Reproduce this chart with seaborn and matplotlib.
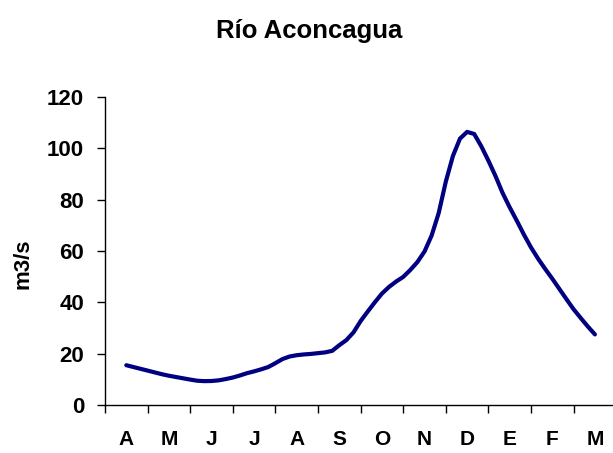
import matplotlib
matplotlib.use("Agg")
import matplotlib.pyplot as plt
import seaborn as sns
import pandas as pd

# Months of the hydrological year (April to March)
months = ["A", "M", "J", "J", "A", "S", "O", "N", "D", "E", "F", "M"]

# Five-day mean discharge (m3/s), one value every sixth of a month from April
pentad = list(range(67))
flow = [15.5, 14.8, 14.1, 13.4, 12.7, 12.0,
        11.4, 10.9, 10.4, 9.9, 9.45, 9.3,
        9.35, 9.6, 10.1, 10.7, 11.5, 12.4,
        13.1, 13.9, 14.8, 16.3, 17.9, 18.9,
        19.4, 19.7, 19.9, 20.2, 20.5, 21.1,
        23.3, 25.3, 28.3, 32.7, 36.4, 40.0,
        43.4, 46.0, 48.1, 49.9, 52.6, 55.7,
        59.8, 66.0, 74.8, 87.0, 97.0, 103.8,
        106.4, 105.6, 100.8, 95.2, 89.2, 82.6,
        77.0, 71.8, 66.4, 61.4, 57.0, 53.0,
        49.2, 45.2, 41.2, 37.3, 33.9, 30.6,
        27.5]

df = pd.DataFrame({"pentad": pentad, "flow": flow})
df["month_pos"] = df["pentad"] / 6.0

sns.set_theme(style="white")
plt.rcParams["font.family"] = ["Liberation Sans", "DejaVu Sans"]
for key in ("text.color", "axes.labelcolor", "xtick.color", "ytick.color"):
    plt.rcParams[key] = "black"

W, H = 613, 453
fig = plt.figure(figsize=(W / 100, H / 100), dpi=100)
ax = fig.add_axes([105 / W, (H - 405) / H, (W - 105) / W, (405 - 97) / H])

sns.lineplot(data=df, x="month_pos", y="flow", ax=ax, color="#000080",
             linewidth=3.0, solid_capstyle="round", solid_joinstyle="round")

step = 42.6
ax.set_xlim(-0.5, -0.5 + (W - 105) / step)
ax.set_ylim(0, 120)

# Category boundaries carry the tick marks, month names sit between them
ax.set_xticks([i - 0.5 for i in range(len(months))])
ax.set_xticklabels([])
ax.set_xticks(list(range(len(months))), minor=True)
ax.set_xticklabels(months, minor=True, fontsize=15, fontweight="bold")
ax.tick_params(axis="x", which="major", direction="out", length=6, width=1,
               color="black", bottom=True)
ax.tick_params(axis="x", which="minor", length=0, pad=18, bottom=True)

ax.set_yticks(range(0, 121, 20))
ax.set_yticklabels([str(v) for v in range(0, 121, 20)], fontsize=16,
                   fontweight="bold")
ax.tick_params(axis="y", direction="out", length=6, width=1, color="black",
               left=True, pad=9)

for side in ("top", "right"):
    ax.spines[side].set_visible(False)
for side in ("left", "bottom"):
    ax.spines[side].set_color("black")
    ax.spines[side].set_linewidth(1)

ax.set_xlabel("")
ax.set_ylabel("m3/s", fontsize=16, fontweight="bold")
ax.yaxis.set_label_coords(-72 / (W - 105), 1 - (264 - 97) / (405 - 97))

fig.text(309 / W, 1 - 31 / H, "Río Aconcagua", ha="center", va="center",
         fontsize=18.5, fontweight="bold")

fig.savefig("out.png", dpi=100)
